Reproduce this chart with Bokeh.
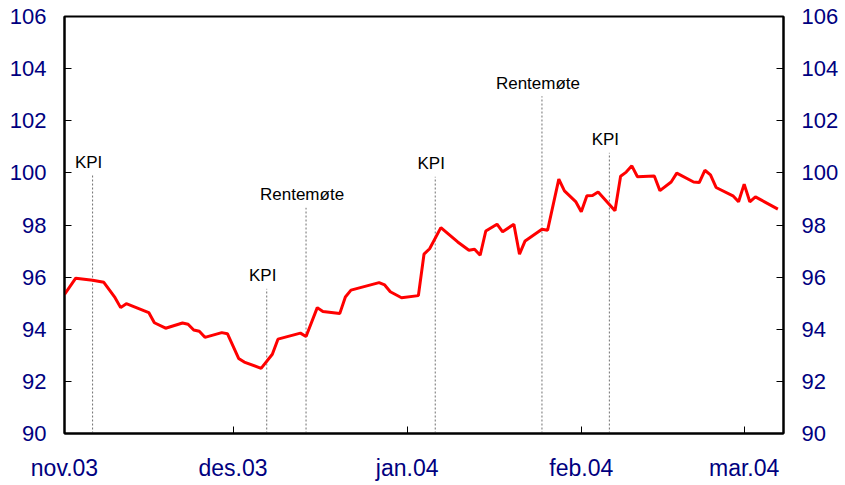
import pandas as pd
from bokeh.plotting import figure
from bokeh.models import LinearAxis, FixedTicker, Range1d, ColumnDataSource
from bokeh.core.properties import value
from bokeh.embed import file_html
from bokeh.resources import INLINE

# ---- data ----
dates = [
    "2003-11-01", "2003-11-03", "2003-11-06", "2003-11-08", "2003-11-10", "2003-11-11",
    "2003-11-12", "2003-11-14", "2003-11-16", "2003-11-17", "2003-11-19", "2003-11-22",
    "2003-11-23", "2003-11-24", "2003-11-25", "2003-11-26", "2003-11-29", "2003-11-30",
    "2003-12-02", "2003-12-03", "2003-12-06", "2003-12-08", "2003-12-09", "2003-12-13",
    "2003-12-14", "2003-12-16", "2003-12-17", "2003-12-20", "2003-12-21", "2003-12-22",
    "2003-12-27", "2003-12-28", "2003-12-29", "2003-12-31", "2004-01-03", "2004-01-04",
    "2004-01-05", "2004-01-07", "2004-01-10", "2004-01-12", "2004-01-13", "2004-01-14",
    "2004-01-15", "2004-01-17", "2004-01-18", "2004-01-20", "2004-01-21", "2004-01-22",
    "2004-01-25", "2004-01-26", "2004-01-28", "2004-01-29", "2004-01-31", "2004-02-01",
    "2004-02-02", "2004-02-03", "2004-02-04", "2004-02-07", "2004-02-08", "2004-02-09",
    "2004-02-10", "2004-02-11", "2004-02-14", "2004-02-15", "2004-02-17", "2004-02-18",
    "2004-02-21", "2004-02-22", "2004-02-23", "2004-02-24", "2004-02-25", "2004-02-28",
    "2004-02-29", "2004-03-01", "2004-03-02", "2004-03-03", "2004-03-07",
]
values = [
    95.34, 95.96, 95.88, 95.80, 95.21, 94.83,
    94.98, 94.81, 94.64, 94.25, 94.04, 94.24,
    94.19, 93.97, 93.92, 93.69, 93.87, 93.83,
    92.88, 92.74, 92.50, 93.04, 93.62, 93.85,
    93.72, 94.83, 94.68, 94.60, 95.24, 95.50,
    95.79, 95.70, 95.44, 95.21, 95.29, 96.88,
    97.09, 97.90, 97.35, 97.03, 97.07, 96.84,
    97.77, 98.03, 97.74, 98.03, 96.88, 97.39,
    97.84, 97.80, 99.76, 99.31, 98.90, 98.51,
    99.12, 99.13, 99.27, 98.55, 99.87, 100.03,
    100.27, 99.85, 99.88, 99.32, 99.65, 99.99,
    99.65, 99.63, 100.10, 99.92, 99.44, 99.12,
    98.89, 99.57, 98.89, 99.08, 98.61,
]

event_dates = ["2003-11-06", "2003-12-07", "2003-12-14", "2004-01-06", "2004-01-25", "2004-02-06"]
event_labels = ["KPI", "KPI", "Rentemøte", "KPI", "Rentemøte", "KPI"]
event_tops = [99.9, 95.55, 98.66, 99.85, 102.94, 100.77]

tick_dates = ["2003-11-01", "2003-12-01", "2004-01-01", "2004-02-01", "2004-03-01"]
tick_labels = ["nov.03", "des.03", "jan.04", "feb.04", "mar.04"]
y_ticks = [90, 92, 94, 96, 98, 100, 102, 104, 106]
x_start, x_end = "2003-11-01", "2004-03-08"
y_min, y_max = 90, 106

# ---- figure ----
FONT = "Liberation Sans"
NAVY = "#000080"

p = figure(width=843, height=484, x_axis_type="datetime",
           x_range=Range1d(pd.Timestamp(x_start), pd.Timestamp(x_end)),
           y_range=Range1d(y_min, y_max),
           output_backend="svg", toolbar_location=None,
           min_border_left=64, min_border_right=60, min_border_top=16, min_border_bottom=51)
p.xgrid.visible = False
p.ygrid.visible = False
p.outline_line_color = "black"
p.outline_line_width = 2
p.background_fill_color = "white"
p.border_fill_color = "white"

ev_x = pd.to_datetime(event_dates)
ev_src = ColumnDataSource(dict(x=ev_x, top=event_tops, bottom=[y_min] * len(event_tops), label=event_labels))
p.segment(x0="x", y0="bottom", x1="x", y1="top", source=ev_src,
          line_color="#707070", line_width=1, line_dash="2 2")
p.text(x="x", y="top", text="label", source=ev_src, text_align="center",
       text_baseline="alphabetic", x_offset=-4, y_offset=-13,
       text_font=value(FONT), text_font_size="17px", text_color="black")

src = ColumnDataSource(dict(x=pd.to_datetime(dates), y=values))
p.line("x", "y", source=src, line_color="#ff0000", line_width=3)

tick_ms = [int(pd.Timestamp(d).value // 10**6) for d in tick_dates]
p.xaxis[0].ticker = FixedTicker(ticks=tick_ms)
p.xaxis[0].major_label_overrides = {t: l for t, l in zip(tick_ms, tick_labels)}

right = LinearAxis()
p.add_layout(right, "right")

for ax in [p.xaxis[0], p.yaxis[0], right]:
    ax.major_tick_in = 7
    ax.major_tick_out = 0
    ax.minor_tick_line_color = None
    ax.axis_line_width = 2
    ax.axis_line_color = "black"
    ax.major_tick_line_color = "black"
    ax.major_tick_line_width = 1
    ax.major_label_text_color = NAVY
    ax.major_label_text_font = FONT
    ax.major_label_text_font_size = "22px"

for ax in [p.yaxis[0], right]:
    ax.ticker = FixedTicker(ticks=y_ticks)
    ax.major_label_standoff = 18

p.xaxis[0].major_label_text_font_size = "23px"
p.xaxis[0].major_label_standoff = 21

open("out.html", "w").write(file_html(p, INLINE))
